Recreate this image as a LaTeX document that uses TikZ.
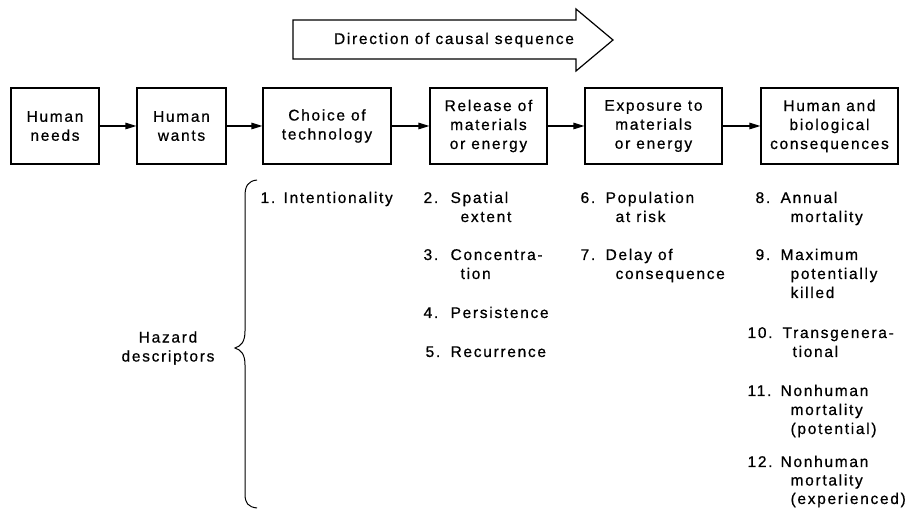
\documentclass[tikz,border=0pt]{standalone}
\usepackage{fontspec}
\setmainfont{Liberation Sans}[LetterSpace=11, FakeBold=0.7]
\usetikzlibrary{arrows.meta}
\begin{document}
\begin{tikzpicture}[x=1pt,y=-1pt,
  font=\fontsize{15.5}{19}\selectfont,
  line width=1.2pt,
  box/.style={draw, minimum height=76pt, align=center, inner sep=0pt},
  link/.style={-{Triangle[length=11pt,width=6.5pt]}},
  lbl/.style={anchor=base west, inner sep=0pt}]
\useasboundingbox (0,0) rectangle (914,510);

% direction arrow
\draw (293,20) -- (576,20) -- (576,9) -- (613,40) -- (576,71) -- (576,59) -- (293,59) -- cycle;
\node (dir) at (454,40) {Direction of causal sequence};

% chain of boxes
\node[box, minimum width=88pt]  (needs) at (55,126)    {Human\\needs};
\node[box, minimum width=89pt]  (wants) at (181.5,126) {Human\\wants};
\node[box, minimum width=128pt] (tech)  at (327,126)   {Choice of\\technology};
\node[box, minimum width=117pt] (rel)   at (488.5,126) {Release of\\materials\\or energy};
\node[box, minimum width=137pt] (expo)  at (653.5,126) {Exposure to\\materials\\or energy};
\node[box, minimum width=137pt] (cons)  at (829.5,126) {Human and\\biological\\consequences};

\draw[link] (needs) -- (wants);
\draw[link] (wants) -- (tech);
\draw[link] (tech) -- (rel);
\draw[link] (rel) -- (expo);
\draw[link] (expo) -- (cons);

% brace and label
\draw[line width=1pt] (257,180) .. controls (248,181) and (245,186) .. (245,196)
  -- (245,331) .. controls (245,342) and (241,346) .. (235,348)
  .. controls (241,350) and (245,354) .. (245,365)
  -- (245,494) .. controls (245,503) and (248,507) .. (257,508);
\node[align=center] (hz) at (168,348) {Hazard\\descriptors};

% column 1
\node[lbl] (n1) at (260,203) {1.};
\node[lbl] (t1) at (283,203) {Intentionality};

% column 2
\node[lbl] (n2) at (423,203) {2.};
\node[lbl] (t2) at (450,203) {\begin{tabular}[t]{@{}l@{}}Spatial\\\hspace{10pt}extent\end{tabular}};
\node[lbl] (n3) at (423,260) {3.};
\node[lbl] (t3) at (450,260) {\begin{tabular}[t]{@{}l@{}}Concentra-\\\hspace{10pt}tion\end{tabular}};
\node[lbl] (n4) at (423,318) {4.};
\node[lbl] (t4) at (450,318) {Persistence};
\node[lbl] (n5) at (425,357) {5.};
\node[lbl] (t5) at (450,357) {Recurrence};

% column 3
\node[lbl] (n6) at (580,203) {6.};
\node[lbl] (t6) at (605,203) {\begin{tabular}[t]{@{}l@{}}Population\\\hspace{10pt}at risk\end{tabular}};
\node[lbl] (n7) at (580,260) {7.};
\node[lbl] (t7) at (605,260) {\begin{tabular}[t]{@{}l@{}}Delay of\\\hspace{10pt}consequence\end{tabular}};

% column 4
\node[lbl] (n8) at (755,203) {8.};
\node[lbl] (t8) at (780,203) {\begin{tabular}[t]{@{}l@{}}Annual\\\hspace{10pt}mortality\end{tabular}};
\node[lbl] (n9) at (755,260) {9.};
\node[lbl] (t9) at (780,260) {\begin{tabular}[t]{@{}l@{}}Maximum\\\hspace{10pt}potentially\\\hspace{10pt}killed\end{tabular}};
\node[lbl] (n10) at (747,338) {10.};
\node[lbl] (t10) at (782,338) {\begin{tabular}[t]{@{}l@{}}Transgenera-\\\hspace{10pt}tional\end{tabular}};
\node[lbl] (n11) at (747,396) {11.};
\node[lbl] (t11) at (780,396) {\begin{tabular}[t]{@{}l@{}}Nonhuman\\\hspace{10pt}mortality\\\hspace{10pt}(potential)\end{tabular}};
\node[lbl] (n12) at (747,467) {12.};
\node[lbl] (t12) at (780,467) {\begin{tabular}[t]{@{}l@{}}Nonhuman\\[-0.5pt]\hspace{10pt}mortality\\[-0.5pt]\hspace{10pt}(experienced)\end{tabular}};
\end{tikzpicture}
\end{document}
